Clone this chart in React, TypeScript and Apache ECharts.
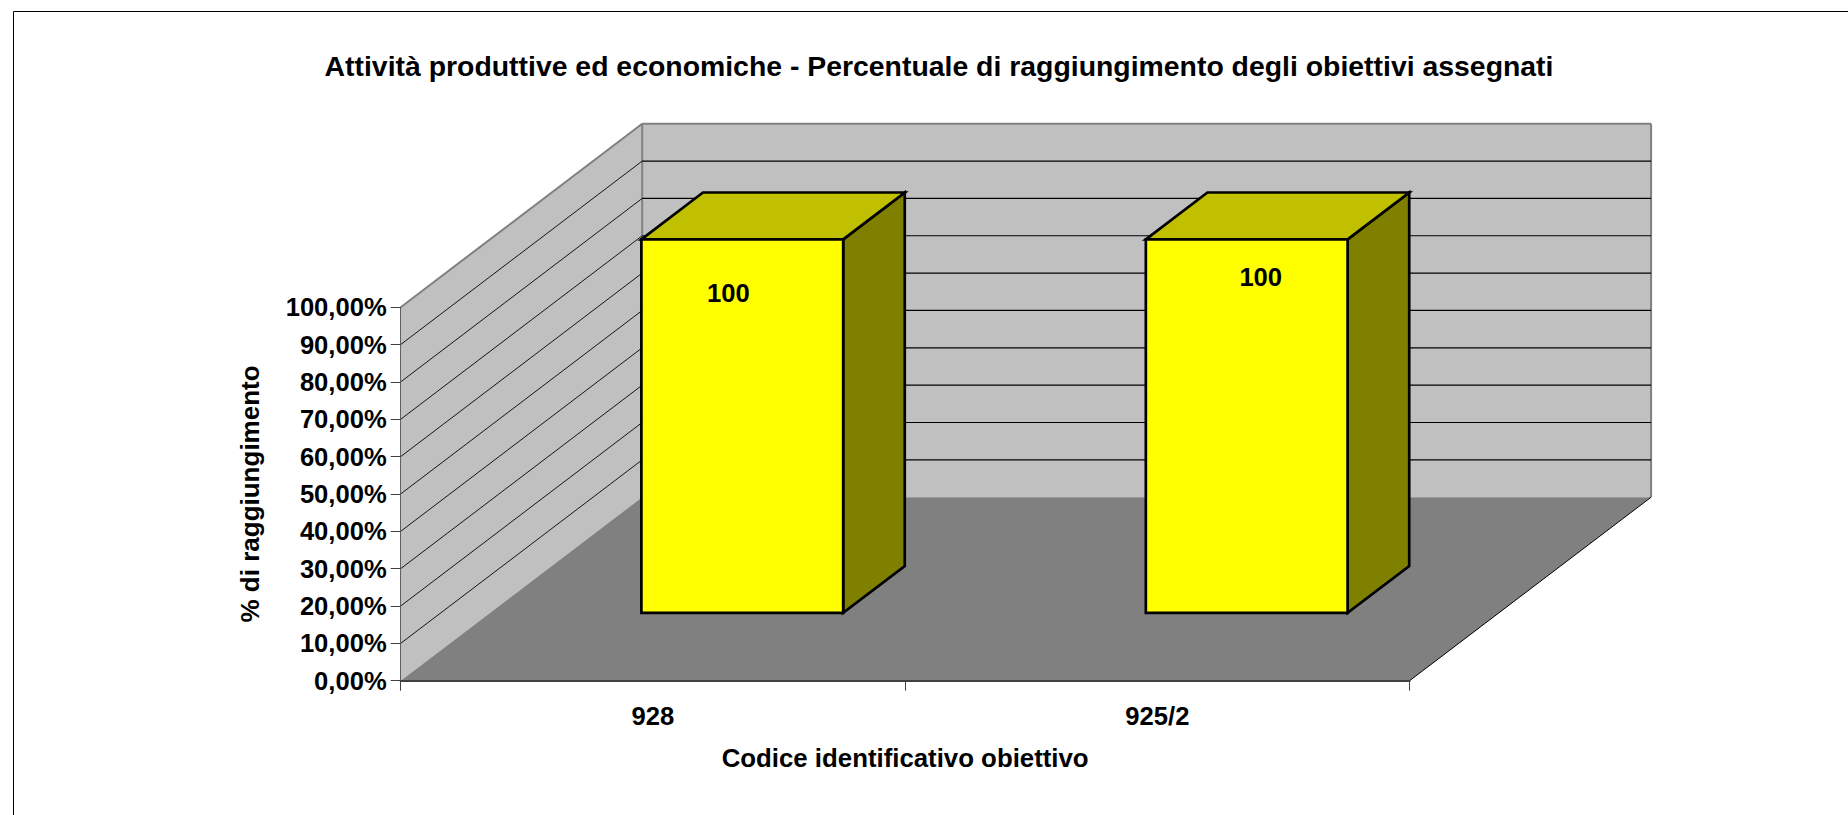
import React, { useEffect, useRef } from "react";
import * as echarts from "echarts";

const titleText = "Attività produttive ed economiche - Percentuale di raggiungimento degli obiettivi assegnati";
const xAxisTitle = "Codice identificativo obiettivo";
const yAxisTitle = "% di raggiungimento";
const categories = ["928", "925/2"];
const achieved = [100, 100];
const dataLabels = ["100", "100"];
const yTicks = [10, 20, 30, 40, 50, 60, 70, 80, 90];

const FONT = '"Liberation Sans", Arial, sans-serif';
const DEPTH_X = 241.5;
const DEPTH_Y = -183.5;
const BAR_NEAR = 0.37;
const BAR_FAR = 0.625;
const BAR_WIDTH_RATIO = 0.4;
const LABEL_NUDGE = [[-14, 54], [14, 38]];

const WALL = "#C0C0C0";
const FLOOR = "#808080";
const EDGE = "#808080";

function poly(points: number[][], fill: string, stroke?: string, lineWidth = 0) {
  return {
    type: "polygon",
    shape: { points },
    style: { fill, stroke: stroke ?? "none", lineWidth, lineJoin: "miter" },
  };
}
function seg(a: number[], b: number[], stroke: string, lineWidth: number) {
  return {
    type: "line",
    shape: { x1: a[0], y1: a[1], x2: b[0], y2: b[1] },
    style: { stroke, lineWidth, fill: "none" },
  };
}

function frontPlane(api: any) {
  const band = api.size([1, 0])[0];
  const left = api.coord([0, 0])[0] - band / 2;
  const right = api.coord([categories.length - 1, 0])[0] + band / 2;
  return { band, left, right };
}

const renderWalls = (_p: any, api: any) => {
  const { left, right } = frontPlane(api);
  const y0 = api.coord([0, 0])[1];
  const y100 = api.coord([0, 100])[1];
  const a = [left, y0];
  const b = [right, y0];
  const c = [right + DEPTH_X, y0 + DEPTH_Y];
  const d = [left + DEPTH_X, y0 + DEPTH_Y];
  const topL = [left, y100];
  const topBL = [left + DEPTH_X, y100 + DEPTH_Y];
  const topBR = [right + DEPTH_X, y100 + DEPTH_Y];
  return {
    type: "group",
    children: [
      poly([d, topBL, topBR, c], WALL),
      poly([a, topL, topBL, d], WALL),
      poly([a, b, c, d], FLOOR),
      seg(topL, topBL, EDGE, 2),
      seg(topBL, topBR, EDGE, 2),
      seg(topBL, d, EDGE, 2),
      seg(topBR, c, EDGE, 2),
      seg(b, c, "#000000", 1),
    ],
  };
};

const renderGridLine = (_p: any, api: any) => {
  const { left, right } = frontPlane(api);
  const y = api.coord([0, api.value(1)])[1];
  const p = [left, y];
  const q = [left + DEPTH_X, y + DEPTH_Y];
  const r = [right + DEPTH_X, y + DEPTH_Y];
  return {
    type: "group",
    children: [seg(p, q, "#000000", 0.9), seg(q, r, "#000000", 1.2)],
  };
};

const renderBar = (p: any, api: any) => {
  const { band } = frontPlane(api);
  const idx = api.value(0);
  const cx = api.coord([idx, 0])[0];
  const y0 = api.coord([idx, 0])[1];
  const yv = api.coord([idx, api.value(1)])[1];
  const w = band * BAR_WIDTH_RATIO;
  const nx = DEPTH_X * BAR_NEAR;
  const ny = DEPTH_Y * BAR_NEAR;
  const fx = DEPTH_X * BAR_FAR;
  const fy = DEPTH_Y * BAR_FAR;
  const x1 = cx - w / 2;
  const x2 = cx + w / 2;
  const FL = [x1 + nx, y0 + ny];
  const FR = [x2 + nx, y0 + ny];
  const FTL = [x1 + nx, yv + ny];
  const FTR = [x2 + nx, yv + ny];
  const BTL = [x1 + fx, yv + fy];
  const BTR = [x2 + fx, yv + fy];
  const BR = [x2 + fx, y0 + fy];
  const nudge = LABEL_NUDGE[p.dataIndex];
  return {
    type: "group",
    children: [
      poly([FR, FTR, BTR, BR], "#808000", "#000000", 2.7),
      poly([FTL, BTL, BTR, FTR], "#C0C000", "#000000", 2.7),
      poly([FL, FTL, FTR, FR], "#FFFF00", "#000000", 2.7),
      {
        type: "text",
        style: {
          text: dataLabels[p.dataIndex],
          x: (x1 + x2) / 2 + nx + nudge[0],
          y: yv + ny + nudge[1],
          align: "center",
          verticalAlign: "middle",
          font: `bold 25.6px ${FONT}`,
          fill: "#000000",
        },
      },
    ],
  };
};

const option: any = {
  animation: false,
  backgroundColor: "#ffffff",
  title: {
    text: titleText,
    left: 934,
    top: 47,
    textAlign: "center",
    textStyle: { fontFamily: FONT, fontSize: 28.4, fontWeight: "bold", color: "#000" },
  },
  grid: { left: 400.7, top: 307.2, width: 1008.9, height: 373.5, containLabel: false },
  xAxis: {
    type: "category",
    data: categories,
    z: 5,
    axisLine: { show: true, lineStyle: { color: "#404040", width: 2 } },
    axisTick: { show: true, length: 10, alignWithLabel: false, lineStyle: { color: "#404040", width: 1 } },
    axisLabel: { fontFamily: FONT, fontSize: 25.6, fontWeight: "bold", color: "#000", margin: 22 },
    splitLine: { show: false },
    name: xAxisTitle,
    nameLocation: "middle",
    nameGap: 64,
    nameTextStyle: { fontFamily: FONT, fontSize: 25.8, fontWeight: "bold", color: "#000" },
  },
  yAxis: {
    type: "value",
    min: 0,
    max: 100,
    interval: 10,
    z: 5,
    axisLine: { show: true, lineStyle: { color: "#606060", width: 1 } },
    axisTick: { show: true, length: 10, lineStyle: { color: "#404040", width: 1 } },
    axisLabel: {
      fontFamily: FONT,
      fontSize: 25.6,
      fontWeight: "bold",
      color: "#000",
      margin: 14,
      formatter: (v: number) => v.toFixed(2).replace(".", ",") + "%",
    },
    splitLine: { show: false },
    name: yAxisTitle,
    nameLocation: "middle",
    nameGap: 138,
    nameRotate: 90,
    nameTextStyle: { fontFamily: FONT, fontSize: 26, fontWeight: "bold", color: "#000" },
  },
  graphic: [
    { type: "line", shape: { x1: 13.5, y1: 11.5, x2: 1848, y2: 11.5 }, style: { stroke: "#000", lineWidth: 1 } },
    { type: "line", shape: { x1: 13.5, y1: 11.5, x2: 13.5, y2: 815 }, style: { stroke: "#000", lineWidth: 1 } },
  ],
  series: [
    { type: "custom", name: "walls", coordinateSystem: "cartesian2d", z: 1, silent: true, clip: false, renderItem: renderWalls, data: [[0, 0]], encode: { x: 0, y: 1 } },
    { type: "custom", name: "grid", coordinateSystem: "cartesian2d", z: 2, silent: true, clip: false, renderItem: renderGridLine, data: yTicks.map((t) => [0, t]), encode: { x: 0, y: 1 } },
    { type: "custom", name: "achieved", coordinateSystem: "cartesian2d", z: 3, silent: true, clip: false, renderItem: renderBar, data: achieved.map((v, i) => [i, v]), encode: { x: 0, y: 1 } },
  ],
};

export default function App() {
  const ref = useRef<HTMLDivElement>(null);
  useEffect(() => {
    document.body.style.margin = "0";
    document.body.style.overflow = "hidden";
    const chart = echarts.init(ref.current!, null, { renderer: "svg", width: 1848, height: 815 });
    chart.setOption(option);
    return () => chart.dispose();
  }, []);
  return <div ref={ref} style={{ width: 1848, height: 815 }} />;
}
